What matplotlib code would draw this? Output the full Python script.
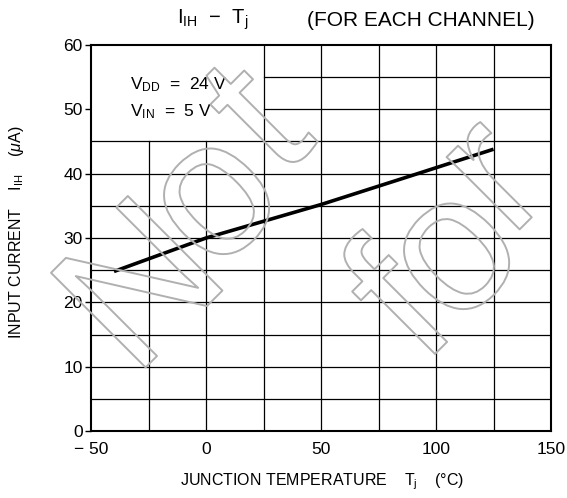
import matplotlib
matplotlib.use("Agg")
import matplotlib.pyplot as plt
import matplotlib.patheffects as pe

# Data
tj = [-40, 0, 50, 92, 125]
iih = [24.8, 30.0, 35.2, 40.0, 43.8]
xticks = [-50, 0, 50, 100, 150]
xticklabels = ["\u2212 50", "0", "50", "100", "150"]
yticks = [0, 10, 20, 30, 40, 50, 60]
xgrid = [-25, 0, 25, 50, 75, 100, 125]
ygrid = [5, 10, 15, 20, 25, 30, 35, 40, 45, 50, 55]

W, H = 567, 498
FONT = "Liberation Sans"
plt.rcParams['font.family'] = [FONT, 'DejaVu Sans']
plt.rcParams['mathtext.fontset'] = 'custom'
plt.rcParams['mathtext.rm'] = FONT
plt.rcParams['mathtext.it'] = FONT + ":italic"

fig = plt.figure(figsize=(W / 100, H / 100), dpi=100)
ax = fig.add_axes([91 / W, 1 - 431 / H, (551 - 91) / W, (431 - 45) / H])
ax.set_xlim(-50, 150)
ax.set_ylim(0, 60)

# blank box region for condition text (top-left)
box_x = 25
box_y = 45
for x in xgrid:
    ytop = box_y if x < box_x else 60
    ax.plot([x, x], [0, ytop], color="black", lw=0.9, zorder=1)
for y in ygrid:
    xleft = box_x if y > box_y else -50
    ax.plot([xleft, 150], [y, y], color="black", lw=0.9, zorder=1)

ax.plot(tj, iih, color="black", lw=2.6, solid_capstyle="butt", zorder=3)

for s in ax.spines.values():
    s.set_linewidth(1.5)

ax.set_xticks(xticks)
ax.set_xticklabels(xticklabels)
ax.set_yticks(yticks)
ax.tick_params(axis="x", length=0, pad=8, labelsize=12.5)
ax.tick_params(axis="y", length=4, width=1, direction="out", pad=2, labelsize=12.5)


def px(x, y):
    return x / W, 1 - y / H


fig.text(*px(130, 85), r"V$_{\mathregular{DD}}$  =  24 V", fontsize=12.5, va="center")
fig.text(*px(130, 112), r"V$_{\mathregular{IN}}$  =  5 V", fontsize=12.5, va="center")

fig.text(*px(177, 20), "I$_{\\mathregular{IH}}$  \u2212  T$_{\\mathregular{j}}$", fontsize=14.5,
         va="center", ha="left")
fig.text(*px(535, 20), "(FOR EACH CHANNEL)", fontsize=15, va="center", ha="right")

fig.text(*px(322, 482), r"JUNCTION TEMPERATURE    T$_{\mathregular{j}}$    (°C)", fontsize=11.5,
         va="center", ha="center")
fig.text(*px(17, 232), r"INPUT CURRENT    I$_{\mathregular{IH}}$    ($\mu$A)", fontsize=11.5,
         va="center", ha="center", rotation=90)

# watermark (hollow outlined letters, rotated 45 degrees)
wm_effect = [pe.Stroke(linewidth=1.4, foreground="#b0b0b0")]
for ch, bx, by in [("N", 184, 329), ("o", 253, 238), ("t", 300, 160),
                   ("f", 442, 347), ("o", 493, 293), ("r", 533, 216)]:
    fig.text(*px(bx, by), ch, fontsize=140, color="none", rotation=45,
             rotation_mode="anchor", ha="center", va="baseline",
             path_effects=wm_effect, zorder=5)

fig.savefig("out.png", dpi=100)
